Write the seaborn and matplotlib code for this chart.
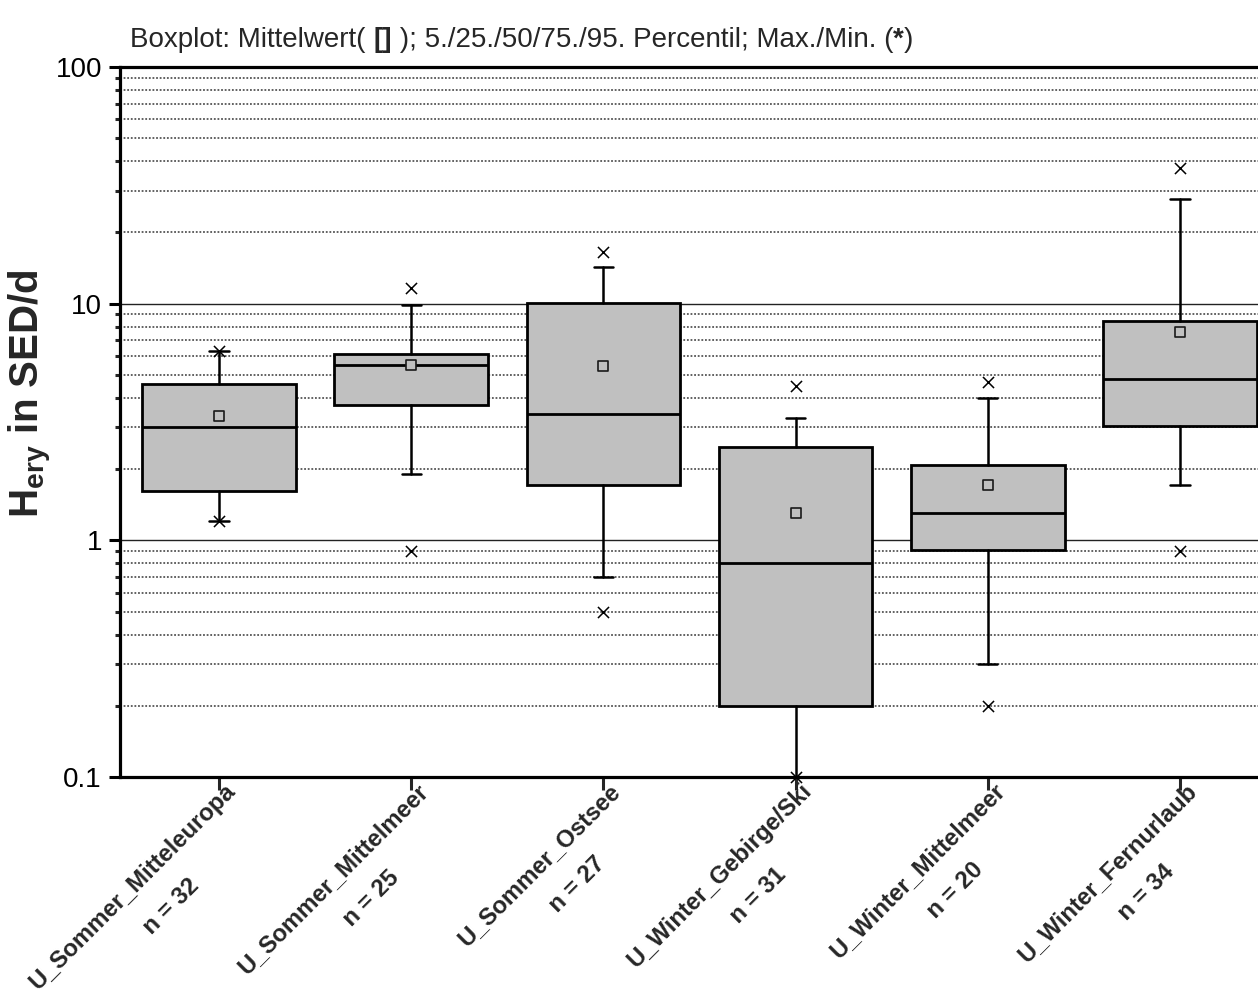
import numpy as np
import pandas as pd
import matplotlib
matplotlib.use("Agg")
import matplotlib.pyplot as plt
import matplotlib.ticker as mticker
import matplotlib.transforms as mtransforms
import seaborn as sns

# Werte (SED/d)
categories = ["U_Sommer_Mitteleuropa", "U_Sommer_Mittelmeer", "U_Sommer_Ostsee",
              "U_Winter_Gebirge/Ski", "U_Winter_Mittelmeer", "U_Winter_Fernurlaub"]
n_values = [32, 25, 27, 31, 20, 34]
p05 = [1.21, 1.90, 0.70, 0.10, 0.30, 1.71]
p25 = [1.61, 3.74, 1.71, 0.20, 0.91, 3.04]
p50 = [3.00, 5.49, 3.41, 0.80, 1.30, 4.81]
p75 = [4.58, 6.13, 10.1, 2.47, 2.09, 8.42]
p95 = [6.29, 9.90, 14.3, 3.29, 4.00, 27.7]
means = [3.35, 5.50, 5.46, 1.30, 1.72, 7.57]
minima = [1.21, 0.90, 0.50, 0.10, 0.20, 0.90]
maxima = [6.30, 11.6, 16.5, 4.48, 4.67, 37.4]

yticks = [0.1, 1, 10, 100]
ytick_labels = ["0.1", "1", "10", "100"]

sns.set_theme(style="ticks")
plt.rcParams["font.family"] = ["Liberation Sans", "DejaVu Sans"]
plt.rcParams["mathtext.fontset"] = "custom"
plt.rcParams["mathtext.rm"] = "Liberation Sans"
plt.rcParams["mathtext.bf"] = "Liberation Sans:bold"

fig = plt.figure(figsize=(12.58, 9.98), dpi=100)
ax = fig.add_axes([0.0954, 0.2214, 0.919, 0.7115])

# Boxen aus den Kennwerten
stats = []
for i in range(len(categories)):
    stats.append(dict(med=p50[i], q1=p25[i], q3=p75[i],
                      whislo=p05[i], whishi=p95[i], fliers=[]))
ax.bxp(stats, positions=range(len(categories)), widths=0.8, capwidths=0.1,
       patch_artist=True, showfliers=False, manage_ticks=False,
       boxprops=dict(facecolor="#C0C0C0", edgecolor="black", linewidth=2.0),
       medianprops=dict(color="black", linewidth=2.0),
       whiskerprops=dict(color="black", linewidth=1.8),
       capprops=dict(color="black", linewidth=1.8))

pos = np.arange(len(categories))
df_mean = pd.DataFrame({"x": pos, "y": means})
df_ext = pd.DataFrame({"x": np.concatenate([pos, pos]),
                       "y": minima + maxima})

sns.scatterplot(data=df_mean, x="x", y="y", marker="s", s=52,
                facecolor="#C0C0C0", edgecolor="#1a1a1a", linewidth=1.2,
                zorder=4, ax=ax)
sns.scatterplot(data=df_ext, x="x", y="y", marker="x", s=64,
                color="black", linewidth=1.1, zorder=4, clip_on=False, ax=ax)

ax.set_yscale("log")
ax.set_ylim(0.1, 100)
ax.set_xlim(-0.515, 5.5)

ax.set_yticks(yticks, labels=ytick_labels)
ax.yaxis.set_minor_locator(mticker.LogLocator(base=10, subs=np.arange(2, 10)))
ax.yaxis.set_minor_formatter(mticker.NullFormatter())

ax.tick_params(axis="y", which="major", direction="out", length=8, width=2.2,
               labelsize=20, pad=5, colors="black")
ax.tick_params(axis="y", which="minor", direction="out", length=3.6, width=2.2)
ax.tick_params(axis="x", direction="out", length=9.4, width=2.2, pad=-8)

# zweite Zeile leicht Richtung Textende versetzt, wie im Original
xlabels = [f"{c}\n    n = {n}" for c, n in zip(categories, n_values)]
ax.set_xticks(pos)
ax.set_xticklabels(xlabels, rotation=45, ha="right", va="top",
                   rotation_mode="anchor", fontweight="bold", fontsize=17.2,
                   multialignment="center", linespacing=2.0)
shift = mtransforms.ScaledTranslation(5 / 100, 0, fig.dpi_scale_trans)
for lbl in ax.get_xticklabels():
    lbl.set_transform(lbl.get_transform() + shift)

ax.yaxis.grid(True, which="major", color="#222222", linewidth=1.0, linestyle="-")
ax.yaxis.grid(True, which="minor", color="#555555", linewidth=1.3,
              linestyle=(0, (1, 1)))
ax.xaxis.grid(False)
ax.set_axisbelow(True)

for side in ["left", "bottom", "top", "right"]:
    ax.spines[side].set_visible(True)
    ax.spines[side].set_linewidth(2.3)
    ax.spines[side].set_color("black")

ax.set_xlabel("")
ax.set_ylabel(r"$\mathbf{H_{ery}}$ in SED/d", fontsize=29, fontweight="bold")
ax.yaxis.set_label_coords(-0.057, 0.54)

# Titelzeile mit fetten Symbolen
fs = 20
t1 = fig.text(130 / 1258, 0.96, "Boxplot: Mittelwert( ", fontsize=fs, va="center")
t2 = ax.annotate("[]", xy=(1, 0), xycoords=t1, va="bottom", ha="left",
                 fontsize=fs, fontweight="bold", annotation_clip=False)
t3 = ax.annotate(" ); 5./25./50/75./95. Percentil; Max./Min. (", xy=(1, 0),
                 xycoords=t2, va="bottom", ha="left", fontsize=fs,
                 annotation_clip=False)
t4 = ax.annotate("*", xy=(1, 0), xycoords=t3, va="bottom", ha="left",
                 fontsize=fs, fontweight="bold", annotation_clip=False)
ax.annotate(")", xy=(1, 0), xycoords=t4, va="bottom", ha="left",
            fontsize=fs, annotation_clip=False)

fig.savefig("out.png", dpi=100)
